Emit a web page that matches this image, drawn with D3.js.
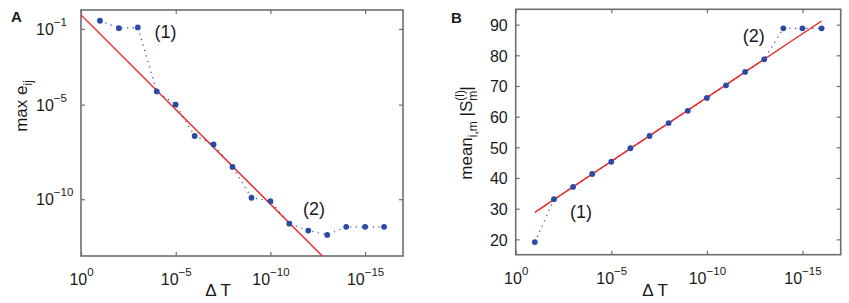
<!DOCTYPE html>
<html>
<head>
  <script src="https://d3js.org/d3.v7.min.js"></script>
  <style>
    body { margin: 0; background: #fff; }
    text { font-family: "Liberation Sans", Arial, Helvetica, sans-serif; fill: #1a1a1a; }
  </style>
</head>
<body>
<div id="chart"></div>
<script>
// time steps (same for both panels)
var dtSteps = [1e-1, 1e-2, 1e-3, 1e-4, 1e-5, 1e-6, 1e-7, 1e-8, 1e-9, 1e-10, 1e-11, 1e-12, 1e-13, 1e-14, 1e-15, 1e-16];

// panel A: max e_ij
var maxErr = [2.7e-1, 1.1e-1, 1.2e-1, 5.0e-5, 1.0e-5, 2.2e-7, 7.8e-8, 5.1e-9, 1.2e-10, 8.0e-11, 5.1e-12, 2.2e-12, 1.3e-12, 3.5e-12, 3.5e-12, 3.5e-12];
var fitA_dt = [1, 1e-17];
var fitA_err = [5.5e-1, 5.5e-18];

// panel B: mean |S|
var meanS = [19.1, 33.1, 37.1, 41.3, 45.3, 49.7, 53.7, 57.9, 61.9, 66.1, 70.2, 74.6, 78.7, 88.8, 88.8, 88.8];
var fitB_dt = [1e-1, 1e-16];
var fitB_s = [28.8, 91.2];

// tick values
var xTicks = [1, 1e-5, 1e-10, 1e-15];
var yTicksA = [1e-1, 1e-5, 1e-10];
var yTicksB = [20, 30, 40, 50, 60, 70, 80, 90];

// annotations
var notesA = [{t: "(1)", dt: 3.5e-5, v: 6.9e-2}, {t: "(2)", dt: 5e-13, v: 3.2e-11}];
var notesB = [{t: "(1)", dt: 3.8e-4, v: 28.9}, {t: "(2)", dt: 3.5e-13, v: 86.5}];

var blue = "#2a4aa8", red = "#ee1c1c", frame = "#6e6e6e";

var svg = d3.select("#chart").append("svg")
  .attr("width", 849)
  .attr("height", 303);

var xA = d3.scaleLog().domain([1, 1e-17]).range([81, 403]);
var yA = d3.scaleLog().domain([1, 1e-13]).range([10, 256]);
var xB = d3.scaleLog().domain([1, 1e-17]).range([515.7, 840.7]);
var yB = d3.scaleLinear().domain([15, 95]).range([254.7, 9.3]);

function powLabel(sel) {
  sel.each(function(d) {
    var t = d3.select(this);
    var e = Math.round(Math.log10(d));
    t.text(null);
    t.append("tspan").text("10");
    t.append("tspan").attr("dy", -9).attr("font-size", 11.5).text(String(e).replace("-", "\u2212"));
  });
}

function drawFrame(x, y, yTicks, logY, id) {
  var x0 = x.range()[0], x1 = x.range()[1];
  var y0 = y.range()[0], y1 = y.range()[1];
  var top = Math.min(y0, y1), bottom = Math.max(y0, y1);

  svg.append("defs").append("clipPath").attr("id", id)
    .append("rect").attr("x", x0).attr("y", top).attr("width", x1 - x0).attr("height", bottom - top);

  // bottom axis with labels
  var gx = svg.append("g").attr("transform", "translate(0," + bottom + ")")
    .call(d3.axisBottom(x).tickValues(xTicks).tickSizeInner(-4).tickSizeOuter(0));
  gx.selectAll(".tick text").attr("y", 29).attr("dy", 0).attr("font-size", 16).call(powLabel);

  svg.append("g").attr("transform", "translate(0," + top + ")")
    .call(d3.axisTop(x).tickValues(xTicks).tickSizeInner(-4).tickSizeOuter(0).tickFormat(""));

  var gy = svg.append("g").attr("transform", "translate(" + x0 + ",0)")
    .call(d3.axisLeft(y).tickValues(yTicks).tickSizeInner(-4).tickSizeOuter(0));
  gy.selectAll(".tick text").attr("font-size", 16).attr("dy", "0.36em");
  if (logY) {
    gy.selectAll(".tick text").attr("x", -45).attr("text-anchor", "start").call(powLabel);
  } else {
    gy.selectAll(".tick text").attr("x", -8);
  }

  svg.append("g").attr("transform", "translate(" + x1 + ",0)")
    .call(d3.axisRight(y).tickValues(yTicks).tickSizeInner(-4).tickSizeOuter(0).tickFormat(""));

  svg.selectAll(".domain").remove();
  svg.selectAll(".tick line").attr("stroke", frame).attr("stroke-width", 1.2);

  svg.append("rect")
    .attr("x", x0).attr("y", top)
    .attr("width", x1 - x0).attr("height", bottom - top)
    .attr("fill", "none").attr("stroke", frame).attr("stroke-width", 1.6);
}

function drawSeries(x, y, vals, fitX, fitY, notes, id) {
  var pts = dtSteps.map(function(d, i) { return [d, vals[i]]; });
  var fit = fitX.map(function(d, i) { return [d, fitY[i]]; });
  var line = d3.line().x(function(d) { return x(d[0]); }).y(function(d) { return y(d[1]); });

  svg.append("path")
    .datum(pts)
    .attr("fill", "none")
    .attr("stroke", blue)
    .attr("stroke-width", 1.2)
    .attr("stroke-dasharray", "1.2,4.5")
    .attr("d", line);

  svg.append("path")
    .datum(fit)
    .attr("clip-path", "url(#" + id + ")")
    .attr("fill", "none")
    .attr("stroke", red)
    .attr("stroke-width", 1.3)
    .attr("d", line);

  svg.append("g").selectAll("circle")
    .data(pts)
    .enter().append("circle")
    .attr("cx", function(d) { return x(d[0]); })
    .attr("cy", function(d) { return y(d[1]); })
    .attr("r", 2.9)
    .attr("fill", blue);

  svg.append("g").selectAll("text")
    .data(notes)
    .enter().append("text")
    .attr("x", function(d) { return x(d.dt); })
    .attr("y", function(d) { return y(d.v); })
    .attr("dy", "0.35em")
    .attr("text-anchor", "middle")
    .attr("font-size", 18)
    .text(function(d) { return d.t; });
}

// panel A
drawFrame(xA, yA, yTicksA, true, "clipA");
drawSeries(xA, yA, maxErr, fitA_dt, fitA_err, notesA, "clipA");

// panel B
drawFrame(xB, yB, yTicksB, false, "clipB");
drawSeries(xB, yB, meanS, fitB_dt, fitB_s, notesB, "clipB");

// panel letters
svg.append("text").attr("x", 11).attr("y", 22).attr("font-size", 15).attr("font-weight", "bold").text("A");
svg.append("text").attr("x", 451).attr("y", 23).attr("font-size", 15).attr("font-weight", "bold").text("B");

// x labels
svg.append("text").attr("x", 218).attr("y", 296).attr("text-anchor", "middle").attr("font-size", 17).text("\u0394 T");
svg.append("text").attr("x", 655).attr("y", 296).attr("text-anchor", "middle").attr("font-size", 17).text("\u0394 T");

// y label A
var la = svg.append("text")
  .attr("transform", "translate(27,106) rotate(-90)")
  .attr("text-anchor", "middle")
  .attr("font-size", 17);
la.append("tspan").text("max e");
la.append("tspan").attr("dy", 5).attr("font-size", 12).text("ij");

// y label B
var lb = svg.append("text")
  .attr("transform", "translate(472,133) rotate(-90)")
  .attr("text-anchor", "middle")
  .attr("font-size", 17);
lb.append("tspan").text("mean");
lb.append("tspan").attr("dy", 5).attr("font-size", 12).text("i,m");
lb.append("tspan").attr("dy", -5).text(" |S");
lb.append("tspan").attr("dy", -8).attr("font-size", 12).text("(l)");
lb.append("tspan").attr("dx", -10.7).attr("dy", 13).attr("font-size", 12).text("m");
lb.append("tspan").attr("dy", -5).text("|");
</script>
</body>
</html>
